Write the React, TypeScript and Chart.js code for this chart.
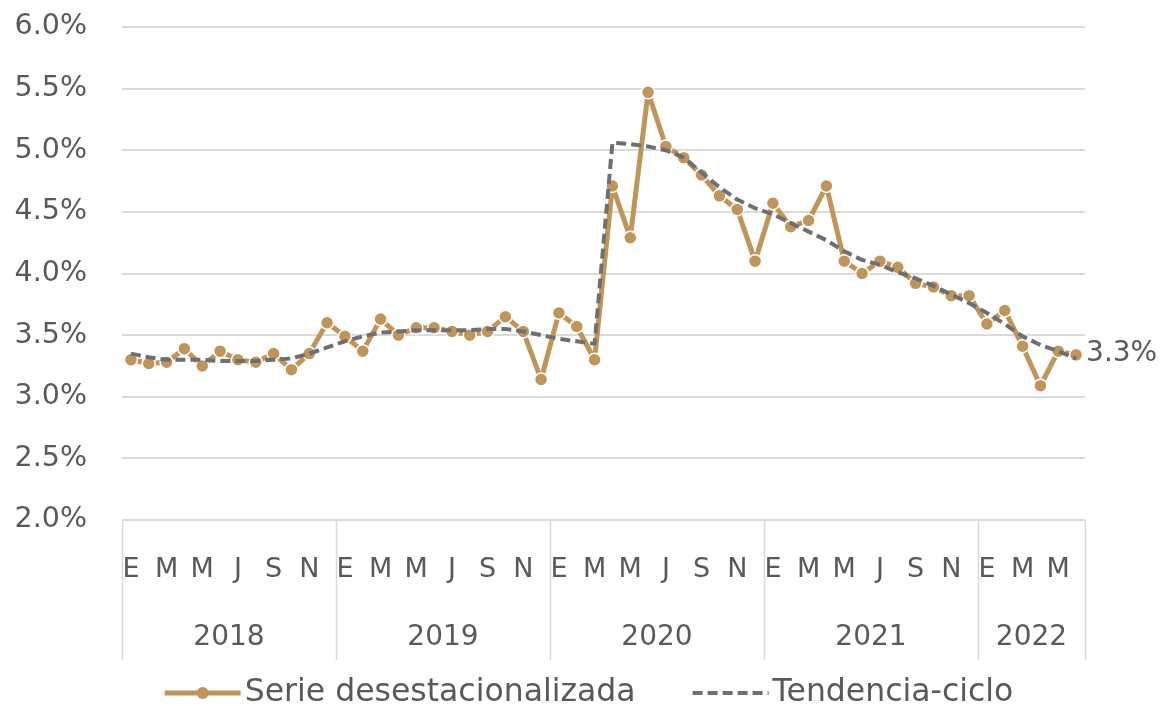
import React, { useEffect, useRef } from 'react';
import { Chart, registerables } from 'chart.js';

Chart.register(...registerables);

const years = ['2018', '2019', '2020', '2021', '2022'];
const monthsPerYear = [12, 12, 12, 12, 6];
const monthInitials = ['E', 'F', 'M', 'A', 'M', 'J', 'J', 'A', 'S', 'O', 'N', 'D'];

const serie = [
  3.30, 3.27, 3.28, 3.39, 3.25, 3.37, 3.30, 3.28, 3.35, 3.22, 3.35, 3.60,
  3.49, 3.37, 3.63, 3.50, 3.56, 3.56, 3.53, 3.50, 3.53, 3.65, 3.53, 3.14,
  3.68, 3.57, 3.30, 4.71, 4.29, 5.47, 5.03, 4.94, 4.80, 4.63, 4.52, 4.10,
  4.57, 4.38, 4.43, 4.71, 4.10, 4.00, 4.10, 4.05, 3.92, 3.89, 3.82, 3.82,
  3.59, 3.70, 3.41, 3.09, 3.37, 3.34,
];

const tendencia = [
  3.35, 3.32, 3.30, 3.30, 3.30, 3.29, 3.29, 3.29, 3.30, 3.31, 3.35, 3.40,
  3.45, 3.49, 3.52, 3.53, 3.54, 3.54, 3.54, 3.54, 3.55, 3.55, 3.53, 3.50,
  3.47, 3.45, 3.43, 5.06, 5.05, 5.03, 5.00, 4.94, 4.82, 4.70, 4.60, 4.53,
  4.48, 4.41, 4.34, 4.27, 4.18, 4.11, 4.07, 4.01, 3.96, 3.90, 3.83, 3.76,
  3.68, 3.59, 3.49, 3.42, 3.37, 3.31,
];

const seriesNames = ['Serie desestacionalizada', 'Tendencia-ciclo'];
const endLabel = '3.3%';
const yMin = 2;
const yMax = 6;
const yStep = 0.5;

const FONT = '"DejaVu Sans", sans-serif';
const TEXT = '#595959';
const GOLD = '#BF955A';
const GREY = '#6E6F70';
const GRID = '#DADADA';

// Build category labels from year + month arrays
const labelMonths: number[] = [];
const labelYears: string[] = [];
years.forEach((y, yi) => {
  for (let m = 0; m < monthsPerYear[yi]; m++) {
    labelMonths.push(m);
    labelYears.push(y);
  }
});
const labels = labelMonths.map((m, i) => `${monthInitials[m]} ${labelYears[i]}`);

const yearGroupsPlugin = {
  id: 'yearGroups',
  beforeDraw(chart: any) {
    const { ctx } = chart;
    ctx.save();
    ctx.fillStyle = '#FFFFFF';
    ctx.fillRect(0, 0, chart.width, chart.height);
    ctx.restore();
  },
  afterDraw(chart: any) {
    const { ctx, chartArea } = chart;
    const x = chart.scales.x;
    const half = (x.getPixelForValue(1) - x.getPixelForValue(0)) / 2;
    const top = chartArea.bottom;
    const bottom = chartArea.bottom + 140;
    ctx.save();
    ctx.strokeStyle = GRID;
    ctx.lineWidth = 1.5;
    let start = 0;
    const edges: number[] = [];
    years.forEach((y, yi) => {
      const s = start;
      const e = start + monthsPerYear[yi] - 1;
      const left = x.getPixelForValue(s) - half;
      const right = x.getPixelForValue(e) + half;
      edges.push(left);
      if (yi === years.length - 1) edges.push(right);
      ctx.fillStyle = TEXT;
      ctx.font = `28px ${FONT}`;
      ctx.textAlign = 'center';
      ctx.textBaseline = 'middle';
      ctx.fillText(y, (left + right) / 2, chartArea.bottom + 118);
      start += monthsPerYear[yi];
    });
    edges.forEach((px) => {
      ctx.beginPath();
      ctx.moveTo(Math.round(px) + 0.5, top);
      ctx.lineTo(Math.round(px) + 0.5, bottom);
      ctx.stroke();
    });

    // end label next to the last point
    const meta = chart.getDatasetMeta(0);
    const last = meta.data[meta.data.length - 1];
    ctx.fillStyle = TEXT;
    ctx.font = `28px ${FONT}`;
    ctx.textAlign = 'left';
    ctx.textBaseline = 'middle';
    ctx.fillText(endLabel, last.x + 10, last.y - 1);

    // legend
    ctx.font = `31.5px ${FONT}`;
    const markerW = 76;
    const gapText = 4;
    const gapItems = 57;
    const w0 = ctx.measureText(seriesNames[0]).width;
    const w1 = ctx.measureText(seriesNames[1]).width;
    const total = markerW + gapText + w0 + gapItems + markerW + gapText + w1;
    let lx = 589 - total / 2;
    const ly = chart.height - 13;
    // item 1
    ctx.strokeStyle = GOLD;
    ctx.lineWidth = 5;
    ctx.setLineDash([]);
    ctx.beginPath();
    ctx.moveTo(lx, ly);
    ctx.lineTo(lx + markerW, ly);
    ctx.stroke();
    ctx.fillStyle = GOLD;
    ctx.beginPath();
    ctx.arc(lx + markerW / 2, ly, 6, 0, Math.PI * 2);
    ctx.fill();
    ctx.fillStyle = TEXT;
    ctx.textAlign = 'left';
    ctx.fillText(seriesNames[0], lx + markerW + gapText, ly);
    lx += markerW + gapText + w0 + gapItems;
    // item 2
    ctx.strokeStyle = GREY;
    ctx.lineWidth = 4;
    ctx.setLineDash([10, 5]);
    ctx.beginPath();
    ctx.moveTo(lx, ly);
    ctx.lineTo(lx + markerW, ly);
    ctx.stroke();
    ctx.setLineDash([]);
    ctx.fillStyle = TEXT;
    ctx.fillText(seriesNames[1], lx + markerW + gapText, ly);
    ctx.restore();
  },
};

export default function App() {
  const ref = useRef<HTMLCanvasElement | null>(null);
  useEffect(() => {
    if (!ref.current) return;
    const chart = new Chart(ref.current, {
      type: 'line',
      data: {
        labels,
        datasets: [
          {
            label: seriesNames[0],
            data: serie,
            borderColor: GOLD,
            backgroundColor: GOLD,
            borderWidth: 5,
            borderJoinStyle: 'round',
            pointRadius: 6.5,
            pointBackgroundColor: GOLD,
            pointBorderColor: '#FFFFFF',
            pointBorderWidth: 1.5,
            tension: 0,
            order: 1,
          },
          {
            label: seriesNames[1],
            data: tendencia,
            borderColor: GREY,
            backgroundColor: GREY,
            borderWidth: 4,
            borderDash: [10, 5],
            borderJoinStyle: 'round',
            pointRadius: 0,
            tension: 0,
            order: 0,
          },
        ],
      },
      options: {
        responsive: false,
        animation: false,
        layout: { padding: { top: 27, right: 75, bottom: 46, left: 0 } },
        plugins: {
          legend: { display: false },
          tooltip: { enabled: false },
        },
        scales: {
          x: {
            offset: true,
            grid: { display: false },
            border: { display: false },
            ticks: {
              autoSkip: false,
              maxRotation: 0,
              minRotation: 0,
              padding: 26,
              color: TEXT,
              font: { family: FONT, size: 27 },
              callback: (_v: any, i: number) => (labelMonths[i] % 2 === 0 ? monthInitials[labelMonths[i]] : ''),
            },
            afterFit: (s: any) => {
              s.height = 140;
            },
          },
          y: {
            min: yMin,
            max: yMax,
            grid: { color: GRID, lineWidth: 2, drawTicks: false },
            border: { display: false },
            ticks: {
              stepSize: yStep,
              padding: 35,
              color: TEXT,
              font: { family: FONT, size: 28.5 },
              callback: (v: any) => `${Number(v).toFixed(1)}%`,
            },
            afterFit: (s: any) => {
              s.width = 122;
              s.paddingTop = 0;
              s.paddingBottom = 0;
            },
          },
        },
      },
      plugins: [yearGroupsPlugin],
    });
    return () => chart.destroy();
  }, []);
  return (
    <div style={{ position: 'absolute', left: 0, top: 0, width: 1160, height: 706, background: '#FFFFFF' }}>
      <canvas ref={ref} width={1160} height={706} style={{ display: 'block' }} />
    </div>
  );
}
